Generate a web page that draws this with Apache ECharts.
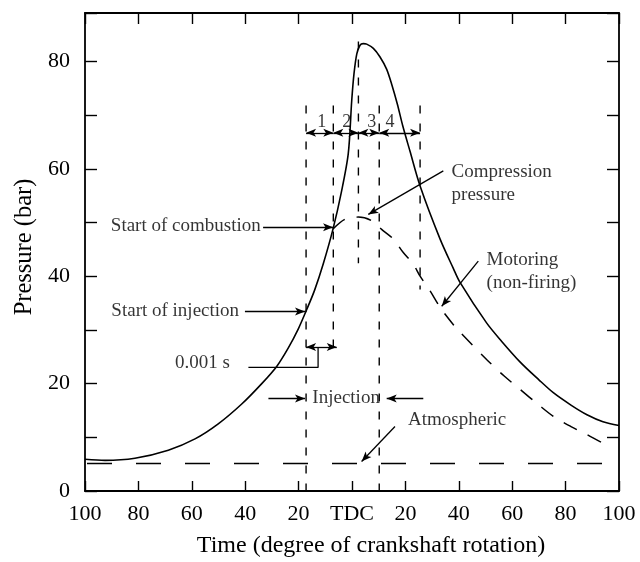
<!DOCTYPE html>
<html>
<head>
<meta charset="utf-8">
<script src="https://cdn.jsdelivr.net/npm/echarts@6/dist/echarts.min.js"></script>
<style>
  html, body { margin: 0; padding: 0; background: #fff; }
  #main { width: 640px; height: 562px; }
</style>
</head>
<body>
<div id="main"></div>
<script type="text/javascript">
  // crank angle in degrees (TDC = 0), pressure in bar
  var firingDeg = [-100, -92.5, -81.3, -68.8, -58.8, -50.1, -41.3, -33.8, -28.2, -23.9, -20.1, -17.2, -14, -10.7, -7.1, -4, -1.4, -0.1, 0.75, 1.8, 3.0, 4.2, 5.5, 8.0, 10.5, 13, 15, 17, 19, 21.7, 25.5, 33, 37.9, 40.4, 50.4, 56, 63, 70, 75.4, 82, 88, 94, 100];
  var firingP = [5.9, 5.7, 6.1, 7.6, 9.7, 12.5, 16.2, 20.0, 23.2, 26.6, 30.2, 33.5, 37.4, 42.4, 48.8, 55.6, 62.8, 72.7, 77.7, 81.4, 83.0, 83.3, 83.2, 82.4, 80.8, 78.5, 75.5, 72.0, 68.0, 63.3, 56.8, 46.9, 41.5, 38.9, 31.3, 27.9, 24.0, 20.7, 18.3, 16.0, 14.2, 12.9, 12.2];

  var motorDeg = [-7.1, -2.6, 2.4, 7.5, 11.1, 15.5, 19.2, 23, 25.5, 29.2, 33, 37.9, 40.4, 50.4, 57, 63, 70, 75.4, 82, 88, 94, 96];
  var motorP = [48.8, 50.6, 51.0, 50.3, 48.7, 46.9, 44.4, 42.2, 40.0, 37.3, 34.2, 31.0, 29.6, 24.5, 21.4, 18.9, 16.0, 13.9, 12.0, 10.5, 8.9, 8.5];

  var atmP = 5.1;

  var xTickLabels = ['100', '80', '60', '40', '20', 'TDC', '20', '40', '60', '80', '100'];

  // dashed marker lines (angle, top, bottom)
  var markDeg = [-17.2, -7.0, 2.4, 10.2, 25.5];
  var markTop = [71.8, 71.8, 83.7, 71.8, 71.8];
  var markBottom = [0, 27.0, 42.4, 0, 37.5];

  var periodNames = ['1', '2', '3', '4'];
  var periodLabelDeg = [-11.3, -2.0, 7.4, 14.2];
  var periodArrowP = 66.7;
  var periodLabelP = 68.7;

  // notes
  var noteText = ['Start of combustion', 'Start of injection', '0.001 s', 'Injection', 'Atmospheric', 'Compression\npressure', 'Motoring\n(non-firing)'];
  var noteDeg = [-34.2, -42.3, -45.7, -2.2, 21.0, 37.3, 50.4];
  var noteP = [49.3, 33.5, 23.9, 17.3, 13.3, 57.3, 40.8];
  var noteAlign = ['right', 'right', 'right', 'center', 'left', 'left', 'left'];

  // single arrows: from -> to
  var arrowFrom = [[-33.3, 49.1], [-40.1, 33.4], [-31.3, 17.2], [26.7, 17.2], [16.1, 12.0], [34.2, 59.6], [47.3, 42.8]];
  var arrowTo = [[-7.1, 49.1], [-17.6, 33.4], [-17.6, 17.2], [13.0, 17.2], [3.6, 5.5], [6.1, 51.5], [33.6, 34.4]];

  // 0.001 s bracket
  var bracketLine = [[-38.8, 23.0], [-12.7, 23.0], [-12.7, 26.8]];
  var bracketArrow = [[-17.2, 26.8], [-5.7, 26.8]];

  var font = 'Liberation Serif';

  var chart = echarts.init(document.getElementById('main'), null, { renderer: 'canvas' });

  var markLines = [];
  for (var i = 0; i < arrowFrom.length; i++) {
    markLines.push([{ coord: arrowFrom[i], symbol: 'none' }, { coord: arrowTo[i], symbol: 'arrow' }]);
  }
  for (var i = 0; i < periodNames.length; i++) {
    markLines.push([{ coord: [markDeg[i], periodArrowP], symbol: 'arrow' }, { coord: [markDeg[i + 1], periodArrowP], symbol: 'arrow' }]);
  }
  markLines.push([{ coord: bracketArrow[0], symbol: 'arrow' }, { coord: bracketArrow[1], symbol: 'arrow' }]);

  var textData = [];
  for (var i = 0; i < noteText.length; i++) {
    textData.push({ value: [noteDeg[i], noteP[i]], name: noteText[i], label: { align: noteAlign[i] } });
  }
  var periodData = [];
  for (var i = 0; i < periodNames.length; i++) {
    periodData.push({ value: [periodLabelDeg[i], periodLabelP], name: periodNames[i] });
  }

  var series = [
    {
      type: 'line',
      data: firingDeg.map(function (d, i) { return [d, firingP[i]]; }),
      showSymbol: false,
      smooth: 0.3,
      lineStyle: { color: '#000', width: 1.6 }
    },
    {
      type: 'line',
      data: motorDeg.map(function (d, i) { return [d, motorP[i]]; }),
      showSymbol: false,
      smooth: 0.3,
      lineStyle: { color: '#000', width: 1.5, type: [15, 12] }
    },
    {
      type: 'line',
      data: [[-100, atmP], [100, atmP]],
      showSymbol: false,
      lineStyle: { color: '#000', width: 1.5, type: [25, 24], dashOffset: -2 }
    },
    {
      type: 'line',
      data: bracketLine,
      showSymbol: false,
      lineStyle: { color: '#000', width: 1.3 },
      markLine: {
        silent: true,
        animation: false,
        symbolSize: [6, 10],
        label: { show: false },
        lineStyle: { color: '#000', width: 1.3, type: 'solid' },
        data: markLines
      }
    },
    {
      type: 'scatter',
      data: textData,
      symbolSize: 0,
      silent: true,
      label: {
        show: true, position: 'inside', formatter: '{b}',
        fontFamily: font, fontSize: 19, color: '#000', lineHeight: 23
      }
    },
    {
      type: 'scatter',
      data: periodData,
      symbolSize: 0,
      silent: true,
      label: {
        show: true, position: 'inside', formatter: '{b}',
        fontFamily: font, fontSize: 18, color: '#000'
      }
    }
  ];

  for (var i = 0; i < markDeg.length; i++) {
    series.push({
      type: 'line',
      data: [[markDeg[i], markTop[i]], [markDeg[i], markBottom[i]]],
      showSymbol: false,
      lineStyle: { color: '#000', width: 1.4, type: [8, 10] }
    });
  }

  var option = {
    backgroundColor: '#fff',
    animation: false,
    grid: { left: 85, right: 21, top: 13, bottom: 71, outerBoundsMode: 'none' },
    xAxis: [
      {
        type: 'value', min: -100, max: 100, interval: 20, position: 'bottom',
        name: 'Time (degree of crankshaft rotation)', nameLocation: 'middle', nameGap: 43,
        nameTextStyle: { fontFamily: font, fontSize: 24, color: '#000', padding: [0, 0, 0, 38] },
        axisLine: { onZero: false, lineStyle: { color: '#000', width: 1.8 } },
        axisTick: { inside: true, length: 10, lineStyle: { color: '#000', width: 1.4 } },
        axisLabel: {
          margin: 12, fontFamily: font, fontSize: 22, color: '#000',
          formatter: function (v) { return xTickLabels[Math.round((v + 100) / 20)]; }
        },
        splitLine: { show: false }
      },
      {
        type: 'value', min: -100, max: 100, interval: 20, position: 'top',
        axisLine: { onZero: false, lineStyle: { color: '#000', width: 1.8 } },
        axisTick: { inside: true, length: 11, lineStyle: { color: '#000', width: 1.4 } },
        axisLabel: { show: false },
        splitLine: { show: false }
      }
    ],
    yAxis: [
      {
        type: 'value', min: 0, max: 89, interval: 10, position: 'left',
        name: 'Pressure (bar)', nameLocation: 'middle', nameGap: 47,
        nameTextStyle: { fontFamily: font, fontSize: 24.5, color: '#000', padding: [0, 0, 0, 10] },
        axisLine: { onZero: false, lineStyle: { color: '#000', width: 1.8 } },
        axisTick: { inside: true, length: 12, lineStyle: { color: '#000', width: 1.4 } },
        axisLabel: {
          margin: 15, fontFamily: font, fontSize: 22, color: '#000',
          formatter: function (v) { return v % 20 === 0 ? String(v) : ''; }
        },
        splitLine: { show: false }
      },
      {
        type: 'value', min: 0, max: 89, interval: 10, position: 'right',
        axisLine: { onZero: false, lineStyle: { color: '#000', width: 1.8 } },
        axisTick: { inside: true, length: 12, lineStyle: { color: '#000', width: 1.4 } },
        axisLabel: { show: false },
        splitLine: { show: false }
      }
    ],
    series: series
  };

  chart.setOption(option);
</script>
</body>
</html>
